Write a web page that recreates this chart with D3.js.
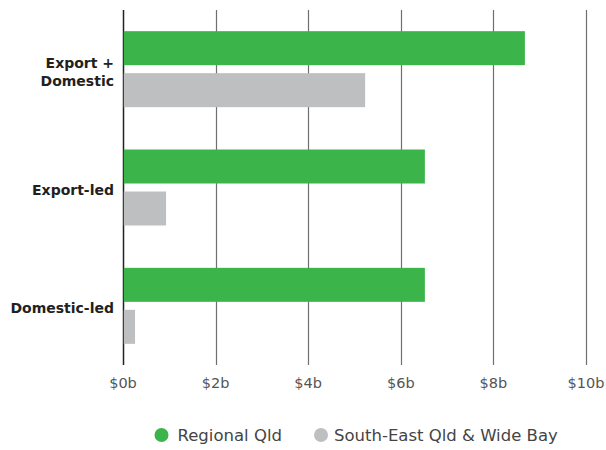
<!DOCTYPE html>
<html>
<head>
<meta charset="utf-8">
<script src="https://cdn.jsdelivr.net/npm/d3@7"></script>
<style>
  html, body { margin: 0; padding: 0; background: #fff; }
  svg { display: block; }
</style>
</head>
<body>
<svg id="chart" width="606" height="450"></svg>
<script>
const categories = [["Export +", "Domestic"], ["Export-led"], ["Domestic-led"]];
const categoryKeys = ["Export + Domestic", "Export-led", "Domestic-led"];
const seriesNames = ["Regional Qld", "South-East Qld & Wide Bay"];
const regionalQld = [8.68, 6.52, 6.52];
const southEastQld = [5.23, 0.93, 0.26];
const tickValues = [0, 2, 4, 6, 8, 10];
const tickLabels = ["$0b", "$2b", "$4b", "$6b", "$8b", "$10b"];
const colors = ["#3bb54a", "#bebfc1"];

const svg = d3.select("#chart");
const x = d3.scaleLinear().domain([0, 10]).range([123, 586]);
const y = d3.scaleBand().domain(categoryKeys).range([10, 365]).paddingInner(0).paddingOuter(0);
const barH = 34, gap = 8;

// gridlines
svg.append("g").selectAll("line").data(tickValues).join("line")
  .attr("x1", d => Math.round(x(d)) + 0.5).attr("x2", d => Math.round(x(d)) + 0.5)
  .attr("y1", 10).attr("y2", 365)
  .attr("stroke", d => d === 0 ? "#222" : "#6f6f6f")
  .attr("stroke-width", d => d === 0 ? 1.5 : 1.2);

const data = categoryKeys.map((k, i) => ({ k, vals: [regionalQld[i], southEastQld[i]] }));
const groups = svg.append("g").selectAll("g").data(data).join("g");
groups.each(function(d) {
  const c = y(d.k) + y.bandwidth() / 2;
  const top = c - (barH * 2 + gap) / 2;
  d3.select(this).selectAll("rect").data(d.vals).join("rect")
    .attr("x", x(0) + 0.8)
    .attr("y", (v, j) => top + j * (barH + gap))
    .attr("width", v => x(v) - x(0) - 0.8)
    .attr("height", barH)
    .attr("fill", (v, j) => colors[j]);
});

// category labels
categories.forEach((lines, i) => {
  const c = y(categoryKeys[i]) + y.bandwidth() / 2;
  const t = svg.append("text")
    .attr("x", 114).attr("text-anchor", "end")
    .attr("font-family", "DejaVu Sans, sans-serif").attr("font-weight", "bold")
    .attr("font-size", 14).attr("fill", "#231f20");
  const lh = 18;
  const y0 = c - (lines.length - 1) * lh / 2 + 7.5;
  lines.forEach((ln, j) => t.append("tspan").attr("x", 114).attr("y", y0 + j * lh).text(ln));
});

// tick labels
svg.append("g").selectAll("text").data(tickValues).join("text")
  .attr("x", d => x(d)).attr("y", 387.5)
  .attr("text-anchor", "middle")
  .attr("font-family", "DejaVu Sans, sans-serif").attr("font-size", 14.5)
  .attr("fill", "#555")
  .text((d, i) => tickLabels[i]);

// legend
const legendX = [161.5, 321];
const leg = svg.append("g").selectAll("g").data(seriesNames).join("g")
  .attr("transform", (d, i) => `translate(${legendX[i]},435)`);
leg.append("circle").attr("r", 7).attr("fill", (d, i) => colors[i]);
leg.append("text").attr("x", (d, i) => i === 0 ? 16 : 13).attr("y", 6)
  .attr("font-family", "DejaVu Sans, sans-serif").attr("font-size", 16.5)
  .attr("fill", "#444").text(d => d);
</script>
</body>
</html>
